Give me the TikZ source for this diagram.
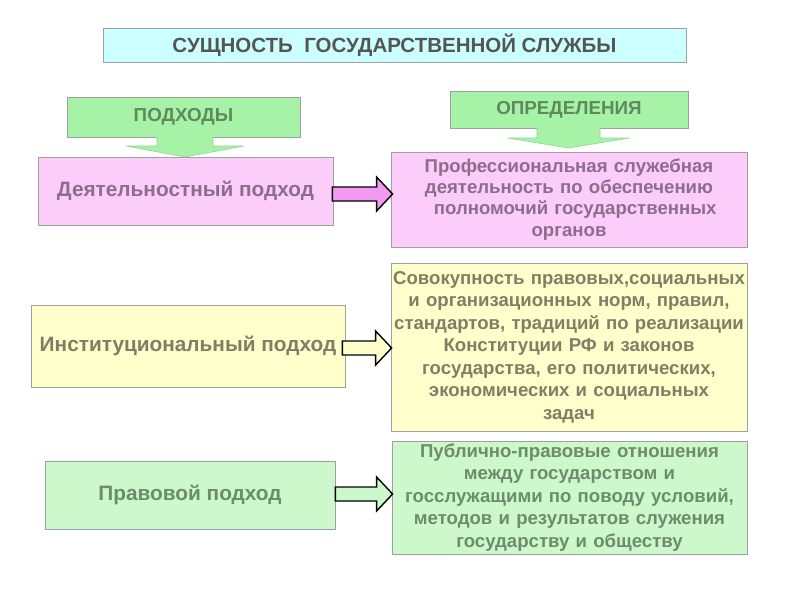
\documentclass[tikz,border=0pt]{standalone}
\usepackage{fontspec}
\setmainfont{Liberation Sans}
\usetikzlibrary{calc}
\definecolor{bordergray}{HTML}{A0A0A0}
\definecolor{titlefill}{HTML}{CCFFFF}
\definecolor{headfill}{HTML}{A6F2A6}
\definecolor{headedge}{HTML}{8FD88F}
\definecolor{pinkfill}{HTML}{FCCCFA}
\definecolor{yellowfill}{HTML}{FFFFCC}
\definecolor{greenfill}{HTML}{CCF8CC}
\definecolor{titletext}{HTML}{555555}
\definecolor{headtext}{HTML}{5E8A5E}
\definecolor{pinktext}{HTML}{8C6E8C}
\definecolor{yellowtext}{HTML}{7F7F66}
\definecolor{greentext}{HTML}{6C8C6C}
\definecolor{pinkarrow}{HTML}{F29AF0}
\newcommand\harrowpath[3]{%
  \draw[#3] ($(#1)+(0,-7)$) -- ($(#2)+(-16,-7)$) -- ($(#2)+(-16,-17)$) -- (#2)
    -- ($(#2)+(-16,17)$) -- ($(#2)+(-16,7)$) -- ($(#1)+(0,7)$) -- cycle;}
\newcommand\varrowpath[5]{% #1 top centre, #2 apex, #3 half stem, #4 stem length, #5 half head
  \draw[headarrow] ($(#1)+(-#3,0)$) -- ($(#1)+(-#3,#4)$) -- ($(#1)+(-#5,#4)$) -- (#2)
    -- ($(#1)+(#5,#4)$) -- ($(#1)+(#3,#4)$) -- ($(#1)+(#3,0)$);}
\tikzset{
  box/.style={draw=bordergray, line width=0.8pt, rectangle, inner sep=0pt, align=center,
    font=\bfseries},
  lefttext/.style={font=\fontsize{20.8}{24}\selectfont\bfseries},
  righttext/.style={font=\fontsize{18.6}{22.5}\selectfont\bfseries},
  headtextstyle/.style={font=\fontsize{18.8}{22}\selectfont\bfseries, text=headtext},
  blockarrow/.style={draw=black, line width=1.4pt, line join=miter},
  headarrow/.style={fill=headfill, draw=headedge, line width=0.6pt, line join=miter},
}
\begin{document}
\begin{tikzpicture}[x=1pt, y=-1pt]
\useasboundingbox (0,0) rectangle (800,600);
\fill[white] (0,0) rectangle (800,600);

% title
\node[box, fill=titlefill, minimum width=583pt, minimum height=34pt,
  font=\fontsize{20.5}{24}\selectfont\bfseries, text=titletext] (title) at (394.5,45.5)
  {СУЩНОСТЬ\ \ ГОСУДАРСТВЕННОЙ СЛУЖБЫ};

% headers
\node[box, fill=headfill, minimum width=233pt, minimum height=40pt, headtextstyle]
  (hp) at (183.5,117) {ПОДХОДЫ};
\node[box, fill=headfill, minimum width=238pt, minimum height=37pt, headtextstyle]
  (hd) at (569,110) {ОПРЕДЕЛЕНИЯ};

% left column
\node[box, fill=pinkfill, minimum width=295pt, minimum height=68pt, lefttext, text=pinktext]
  (a1) at (185.5,191) {Деятельностный подход};
\node[box, fill=yellowfill, minimum width=314pt, minimum height=82pt, lefttext, text=yellowtext]
  (a2) at (188,346) {Институциональный подход};
\node[box, fill=greenfill, minimum width=290pt, minimum height=68pt, lefttext, text=greentext]
  (a3) at (190,495) {Правовой подход};

% right column
\node[box, fill=pinkfill, minimum width=356pt, minimum height=95pt, text width=356pt,
  font=\fontsize{18.6}{21.2}\selectfont\bfseries, text=pinktext] (b1) at (569,199.5)
  {Профессиональная служебная\\деятельность по обеспечению\\\ \ полномочий государственных\\органов};
\node[box, fill=yellowfill, minimum width=356pt, minimum height=168pt, text width=356pt,
  righttext, text=yellowtext] (b2) at (569,347)
  {Совокупность правовых,социальных\\и организационных норм, правил,\\стандартов, традиций по реализации\\Конституции РФ и законов\\государства, его политических,\\экономических и социальных\\задач};
\node[box, fill=greenfill, minimum width=355pt, minimum height=113pt, text width=355pt,
  righttext, text=greentext] (b3) at (569.5,497.5)
  {Публично-правовые отношения\\между государством и\\госслужащими по поводу условий,\\методов и результатов служения\\государству и обществу};

% down arrows
\coordinate (hpS) at (185,137);
\coordinate (hpA) at (185,157);
\varrowpath{hpS}{hpA}{28}{9}{59}
\coordinate (hdS) at (568.5,128);
\coordinate (hdA) at (568.5,148);
\varrowpath{hdS}{hdA}{31.5}{10}{61}

% horizontal arrows
\coordinate (s1) at ($(a1.east |- 0,194)+(-1,0)$);
\coordinate (t1) at ($(b1.west |- 0,194)+(2,0)$);
\harrowpath{s1}{t1}{blockarrow, fill=pinkarrow}
\coordinate (s2) at ($(a2.east |- 0,348)+(-3,0)$);
\coordinate (t2) at ($(b2.west |- 0,348)+(1,0)$);
\harrowpath{s2}{t2}{blockarrow, fill=yellowfill}
\coordinate (s3) at ($(a3.east |- 0,494)+(0,0)$);
\coordinate (t3) at ($(b3.west |- 0,494)+(1,0)$);
\harrowpath{s3}{t3}{blockarrow, fill=greenfill}
\end{tikzpicture}
\end{document}
